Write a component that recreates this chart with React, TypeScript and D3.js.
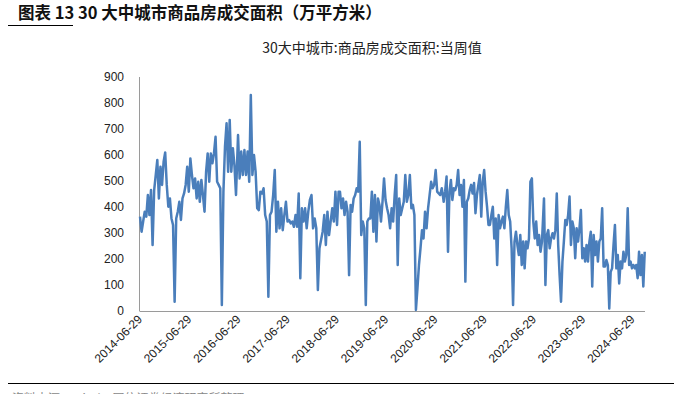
import React, { useEffect, useRef } from 'react';
import * as d3 from 'd3';

// x axis labels (one per year) and y ticks
const xTickLabels = ['2014-06-29', '2015-06-29', '2016-06-29', '2017-06-29', '2018-06-29', '2019-06-29',
    '2020-06-29', '2021-06-29', '2022-06-29', '2023-06-29', '2024-06-29'];
const yTicks = [0, 100, 200, 300, 400, 500, 600, 700, 800, 900];

// weekly transaction area (10k m2)
const area2014to2016 = [363, 305, 344, 382, 363, 446, 369, 465, 254, 465, 523, 581, 433, 555, 485, 574, 610, 485,
    401, 433, 356, 331, 36, 356, 382, 420, 350, 433, 452, 485, 555, 459, 587, 523, 472, 510, 433, 497, 420, 504,
    446, 382, 536, 606, 497, 606, 568, 606, 670, 497, 485, 472, 23, 459, 632, 722, 536, 735, 536, 626, 561, 446];
const area2016to2018 = [677, 510, 613, 523, 619, 523, 613, 497, 831, 523, 600, 536, 395, 388, 459, 452, 472, 369,
    344, 55, 369, 382, 446, 542, 305, 420, 318, 395, 311, 369, 420, 344, 350, 337, 344, 324, 369, 324, 452, 126,
    395, 344, 395, 318, 382, 427, 446, 318, 356, 318, 81, 241, 273, 305, 369, 254, 382, 292, 344, 395, 344, 459,
    331, 459];
const area2018to2020 = [459, 395, 433, 369, 420, 382, 138, 408, 382, 433, 446, 472, 459, 651, 292, 344, 318, 23,
    344, 356, 356, 459, 305, 446, 267, 433, 408, 344, 420, 510, 427, 395, 369, 318, 395, 344, 446, 523, 177, 433,
    369, 395, 420, 523, 420, 446, 523, 395, 408, 369, 4, 87, 177, 241, 311, 279, 382, 318, 395, 446, 497, 472,
    485, 542, 459, 452, 446, 472, 433];
const area2020to2022 = [420, 459, 517, 228, 459, 504, 427, 472, 465, 485, 542, 446, 485, 401, 504, 113, 420, 433,
    465, 485, 452, 492, 376, 446, 485, 523, 363, 497, 542, 459, 401, 331, 331, 369, 401, 279, 356, 177, 369, 318,
    344, 363, 318, 401, 465, 369, 344, 241, 23, 267, 305, 254, 215, 292, 177, 267, 164, 267, 241, 279, 497, 510,
    344, 279, 344, 254, 292, 228, 267];
const area2022to2024 = [433, 100, 292, 311, 241, 279, 299, 279, 311, 452, 254, 138, 36, 190, 267, 350, 331, 369,
    440, 254, 344, 318, 203, 318, 267, 318, 388, 203, 241, 190, 254, 190, 267, 305, 94, 292, 215, 267, 190, 267,
    279, 395, 171, 171, 196, 177, 10, 151, 164, 254, 331, 164, 215, 106, 190, 164, 228, 190, 215, 395, 177, 190,
    164, 177, 164, 177, 126, 228, 138, 215, 94, 228];
const periods = [area2014to2016, area2016to2018, area2018to2020, area2020to2022, area2022to2024];
const periodStarts = ['2014-06-29', '2016-06-25', '2018-07-21', '2020-08-28', '2022-09-11'];
const periodEnds = ['2016-06-10', '2018-07-11', '2020-08-25', '2022-08-27', '2024-09-27'];
const lastWeek = '2024-09-29';

const title = '图表 13 30 大中城市商品房成交面积（万平方米）';
const chartTitle = '30大中城市:商品房成交面积:当周值';
const source = '资料来源：Wind，国信证券经济研究所整理';

export default function App() {
    const ref = useRef<SVGSVGElement>(null);

    useEffect(() => {
        const parse = d3.timeParse('%Y-%m-%d');
        const svg = d3.select(ref.current);
        svg.selectAll('*').remove();

        // build the weekly points, spreading each period's readings across its weeks
        const data: { date: Date; value: number }[] = [];
        periods.forEach((vals, p) => {
            const t = d3.scaleLinear()
                .domain([0, vals.length - 1])
                .range([parse(periodStarts[p])!.getTime(), parse(periodEnds[p])!.getTime()]);
            vals.forEach((v, i) => data.push({ date: new Date(t(i)), value: v }));
        });

        const left = 140, right = 645, top = 77, bottom = 311;

        const x = d3.scaleTime()
            .domain([parse(xTickLabels[0])!, parse(lastWeek)!])
            .range([left, right]);
        const y = d3.scaleLinear()
            .domain([0, 900])
            .range([bottom, top]);

        // headings
        svg.append('text')
            .attr('x', 18).attr('y', 19)
            .attr('font-family', '"Noto Sans CJK SC", sans-serif')
            .attr('font-size', 16.5).attr('font-weight', 'bold')
            .attr('fill', '#111')
            .text(title);
        svg.append('line')
            .attr('x1', 8).attr('x2', 73).attr('y1', 25.5).attr('y2', 25.5)
            .attr('stroke', '#000').attr('stroke-width', 1.2);

        svg.append('text')
            .attr('x', 372).attr('y', 53)
            .attr('text-anchor', 'middle')
            .attr('font-family', '"Noto Sans CJK SC", sans-serif')
            .attr('font-size', 14)
            .attr('fill', '#222')
            .text(chartTitle);

        // axes
        const yAxis = svg.append('g');
        yAxis.append('line')
            .attr('x1', left - 0.5).attr('x2', left - 0.5)
            .attr('y1', top).attr('y2', bottom)
            .attr('stroke', '#9a9a9a');
        yAxis.selectAll('text')
            .data(yTicks)
            .enter()
            .append('text')
            .attr('x', 124)
            .attr('y', d => y(d))
            .attr('dy', '0.35em')
            .attr('text-anchor', 'end')
            .attr('font-family', '"Liberation Sans", Arial, sans-serif')
            .attr('font-size', 12)
            .attr('fill', '#222')
            .text(d => d);

        svg.append('line')
            .attr('x1', left - 0.5).attr('x2', right)
            .attr('y1', bottom + 0.5).attr('y2', bottom + 0.5)
            .attr('stroke', '#9a9a9a');

        svg.append('g')
            .selectAll('text')
            .data(xTickLabels)
            .enter()
            .append('text')
            .attr('transform', d => 'translate(' + (x(parse(d)!) + 3) + ',' + (bottom + 9) + ') rotate(-45)')
            .attr('text-anchor', 'end')
            .attr('font-family', '"Liberation Sans", Arial, sans-serif')
            .attr('font-size', 12)
            .attr('fill', '#222')
            .text(d => d);

        // the series
        const line = d3.line<{ date: Date; value: number }>()
            .x(d => x(d.date))
            .y(d => y(d.value));
        svg.append('path')
            .datum(data)
            .attr('fill', 'none')
            .attr('stroke', '#4a7ebb')
            .attr('stroke-width', 2.5)
            .attr('stroke-linejoin', 'round')
            .attr('d', line);

        // footer (cut off by the bottom edge, as in the original page)
        svg.append('line')
            .attr('x1', 8).attr('x2', 674).attr('y1', 383.5).attr('y2', 383.5)
            .attr('stroke', '#000').attr('stroke-width', 1);
        svg.append('text')
            .attr('x', 12).attr('y', 403)
            .attr('font-family', '"Noto Sans CJK SC", sans-serif')
            .attr('font-size', 12)
            .attr('fill', '#888')
            .text(source);
    }, []);

    return (
        <svg ref={ref} width={674} height={394}
            style={{ position: 'absolute', left: 0, top: 0, background: '#fff' }} />
    );
}
